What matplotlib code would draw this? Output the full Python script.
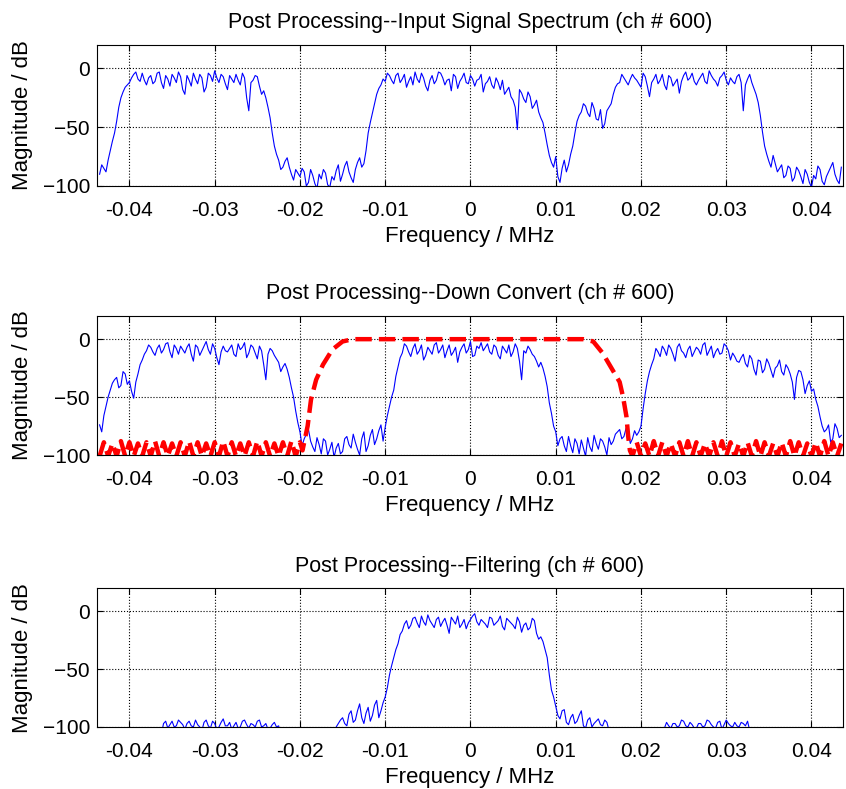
import numpy as np
import matplotlib
matplotlib.use("Agg")
import matplotlib.pyplot as plt
from matplotlib.ticker import FuncFormatter

plt.rcParams['font.family'] = ['Liberation Sans', 'DejaVu Sans']

# frequency range (MHz) of the blue spectra; bins every 0.00025 MHz
f_start, f_stop = -0.0435, 0.0435

# magnitude in dB on the even bins (0.0005 MHz grid), one row = 10 bins
input_db = [
    -90, -85, -78, -62, -45, -25, -16, -12, -5, -9,
    -4, -14, -6, -11, -3, -17, -9, -5, -12, -7,
    -22, -10, -4, -13, -8, -16, -6, -2, -12, -7,
    -18, -9, -5, -14, -8, -36, -10, -7, -22, -25,
    -42, -66, -78, -84, -76, -90, -86, -92, -88, -97,
    -91, -102, -94, -89, -101, -95, -82, -90, -79, -93,
    -86, -76, -81, -55, -38, -22, -14, -11, -6, -13,
    -4, -9, -16, -7, -3, -12, -8, -19, -6, -10,
    -4, -14, -9, -5, -17, -8, -12, -6, -15, -9,
    -20, -11, -14, -8, -18, -22, -16, -27, -52, -21,
    -29, -24, -31, -37, -46, -65, -80, -75, -97, -78,
    -82, -66, -45, -37, -32, -41, -34, -44, -51, -36,
    -30, -16, -12, -8, -14, -5, -10, -16, -7, -24,
    -9, -13, -5, -18, -8, -12, -21, -6, -10, -4,
    -14, -7, -11, -2, -9, -15, -6, -10, -8, -13,
    -5, -36, -9, -12, -22, -40, -66, -79, -74, -88,
    -82, -91, -85, -93, -87, -98, -90, -101, -94, -86,
    -99, -88, -80, -95, -84,
]
# odd bins (halfway between the even ones)
input_db_mid = [
    -82, -88, -70, -55, -33, -20, -14, -8, -3, -11,
    -10, -8, -13, -4, -12, -6, -15, -8, -3, -18,
    -6, -15, -9, -5, -20, -4, -11, -8, -5, -13,
    -6, -12, -10, -4, -25, -12, -6, -15, -19, -33,
    -55, -73, -86, -79, -84, -95, -89, -85, -100, -86,
    -98, -90, -86, -99, -92, -87, -96, -83, -88, -97,
    -80, -84, -70, -46, -30, -17, -9, -4, -10, -6,
    -12, -5, -11, -14, -9, -4, -15, -10, -13, -3,
    -8, -10, -19, -7, -11, -4, -13, -9, -10, -5,
    -13, -7, -17, -12, -10, -19, -24, -33, -18, -26,
    -20, -34, -27, -42, -55, -74, -84, -92, -85, -88,
    -73, -55, -40, -30, -38, -29, -43, -35, -47, -33,
    -22, -13, -5, -11, -9, -8, -13, -4, -15, -12,
    -5, -10, -14, -6, -15, -9, -11, -3, -8, -11,
    -10, -4, -13, -6, -11, -8, -3, -14, -11, -7,
    -12, -14, -5, -17, -29, -54, -73, -84, -81, -85,
    -93, -83, -96, -84, -92, -86, -97, -91, -83, -96,
    -92, -84, -90, -98,
]

downconv_db = [
    -74, -66, -50, -38, -33, -40, -30, -36, -51, -30,
    -18, -10, -7, -14, -5, -9, -3, -16, -8, -6,
    -12, -4, -19, -7, -10, -2, -13, -8, -22, -6,
    -11, -5, -15, -9, -3, -12, -7, -17, -10, -35,
    -8, -14, -20, -24, -26, -42, -62, -80, -86, -78,
    -93, -85, -99, -88, -95, -102, -90, -97, -84, -94,
    -89, -100, -80, -92, -78, -86, -74, -76, -58, -44,
    -24, -12, -6, -15, -4, -10, -18, -7, -13, -3,
    -9, -16, -5, -11, -20, -7, -12, -2, -14, -8,
    -10, -4, -13, -7, -17, -9, -5, -11, -8, -35,
    -12, -9, -15, -24, -25, -41, -64, -80, -86, -92,
    -84, -98, -90, -87, -101, -93, -83, -95, -88, -100,
    -91, -82, -78, -84, -80, -86, -83, -75, -47, -28,
    -17, -11, -6, -14, -8, -19, -4, -12, -9, -15,
    -7, -13, -3, -10, -16, -8, -12, -6, -18, -15,
    -20, -13, -24, -17, -31, -19, -26, -21, -33, -23,
    -28, -22, -30, -52, -27, -35, -40, -45, -52, -67,
    -80, -74, -86, -77, -83,
]
downconv_db_mid = [
    -80, -58, -44, -35, -42, -28, -39, -45, -37, -22,
    -13, -5, -11, -8, -12, -4, -11, -5, -13, -9,
    -7, -13, -5, -14, -6, -9, -4, -16, -11, -10,
    -8, -13, -4, -7, -16, -5, -12, -6, -22, -13,
    -10, -17, -28, -21, -33, -50, -72, -92, -82, -88,
    -97, -91, -86, -100, -89, -94, -99, -86, -91, -82,
    -95, -86, -97, -83, -91, -79, -88, -66, -50, -32,
    -16, -4, -11, -8, -13, -5, -14, -10, -5, -12,
    -5, -10, -14, -7, -11, -4, -9, -15, -6, -3,
    -7, -11, -5, -14, -6, -12, -15, -4, -19, -10,
    -6, -13, -19, -20, -32, -55, -75, -92, -84, -97,
    -92, -86, -99, -94, -85, -97, -90, -86, -93, -85,
    -88, -80, -86, -77, -90, -79, -80, -60, -36, -22,
    -8, -15, -9, -5, -13, -7, -10, -16, -6, -11,
    -9, -5, -14, -6, -11, -13, -4, -10, -12, -19,
    -16, -21, -14, -26, -18, -29, -17, -27, -25, -18,
    -31, -25, -37, -33, -28, -47, -36, -43, -58, -75,
    -78, -89, -73, -85,
]

filtered_db = [
    -112, -115, -110, -118, -113, -111, -116, -112, -114, -110,
    -117, -112, -109, -115, -111, -97, -101, -95, -99, -96,
    -102, -95, -100, -98, -103, -94, -101, -97, -100, -93,
    -99, -102, -96, -100, -94, -101, -98, -95, -100, -97,
    -101, -96, -99, -112, -115, -110, -118, -113, -116, -111,
    -114, -110, -117, -112, -108, -104, -97, -92, -99, -86,
    -94, -80, -97, -83, -90, -77, -86, -74, -55, -40,
    -28, -17, -8, -12, -5, -14, -9, -3, -11, -7,
    -13, -6, -19, -8, -4, -11, -15, -7, -2, -12,
    -9, -14, -6, -10, -4, -16, -8, -12, -5, -18,
    -10, -14, -8, -24, -26, -40, -68, -82, -93, -85,
    -98, -89, -95, -86, -101, -92, -97, -93, -99, -96,
    -108, -113, -110, -116, -112, -118, -111, -115, -109, -114,
    -112, -117, -110, -96, -101, -97, -99, -95, -100, -98,
    -101, -97, -99, -95, -100, -96, -102, -94, -99, -96,
    -100, -97, -95, -108, -113, -110, -116, -112, -115, -111,
    -117, -112, -110, -114, -118, -111, -115, -113, -109, -116,
    -112, -114, -110, -117, -113,
]
filtered_db_mid = [
    -114, -118, -112, -110, -117, -113, -111, -115, -109, -113,
    -110, -114, -112, -108, -106, -95, -98, -100, -94, -98,
    -97, -99, -94, -100, -96, -99, -95, -102, -96, -99,
    -96, -99, -101, -95, -98, -97, -100, -94, -99, -102,
    -98, -100, -107, -114, -111, -116, -112, -117, -110, -115,
    -111, -116, -113, -109, -106, -100, -94, -97, -89, -96,
    -86, -92, -88, -95, -81, -92, -79, -66, -47, -33,
    -20, -11, -15, -6, -10, -4, -12, -8, -14, -5,
    -9, -12, -5, -11, -14, -7, -10, -4, -9, -7,
    -11, -5, -12, -8, -13, -6, -10, -15, -9, -12,
    -16, -6, -19, -22, -33, -55, -74, -90, -86, -96,
    -92, -97, -90, -99, -94, -100, -95, -98, -94, -103,
    -111, -109, -114, -110, -117, -113, -110, -118, -112, -111,
    -115, -112, -101, -99, -97, -100, -94, -99, -96, -101,
    -97, -100, -94, -98, -101, -95, -98, -97, -100, -99,
    -96, -99, -103, -111, -109, -114, -111, -117, -113, -115,
    -110, -116, -113, -109, -115, -117, -112, -110, -114, -112,
    -113, -111, -116, -114,
]

# filter response (red) - stopband ripple, transition, passband
stop_left_db = [
    -101, -89, -101, -90, -101, -88, -101, -89, -101, -90, -101, -89,
    -101, -88, -101, -89, -101, -90, -101, -89, -101, -88, -101, -89,
    -101, -90, -101, -89, -101, -88, -101, -89, -101, -90, -101, -89,
    -101, -88, -101, -89, -101, -90, -101, -89, -101, -88, -101, -89,
]
trans_freq = [-0.0197, -0.0191, -0.0187, -0.0181, -0.0173, -0.0162, -0.0150, -0.0138,
              0.0132, 0.0144, 0.0155, 0.0167, 0.0175, 0.0179, 0.0183, 0.0185, 0.0187]
trans_db = [-96, -75, -52, -35, -22, -9, -2, 0,
            0, -2, -12, -27, -37, -50, -67, -84, -96]
stop_right_db = [
    -101, -89, -101, -90, -101, -88, -101, -89, -101, -90, -101, -89,
    -101, -88, -101, -89, -101, -90, -101, -89, -101, -88, -101, -89,
    -101, -90, -101, -89, -101, -88, -101, -89, -101, -90, -101, -89,
    -101, -88, -101, -89, -101, -90, -101, -89, -101, -88, -101, -89,
    -101, -90,
]

titles = ["Post Processing--Input Signal Spectrum (ch # 600)",
          "Post Processing--Down Convert (ch # 600)",
          "Post Processing--Filtering (ch # 600)"]
xticks = [-0.04, -0.03, -0.02, -0.01, 0, 0.01, 0.02, 0.03, 0.04]
yticks = [-100, -50, 0]


def interleave(even, odd):
    out = np.empty(len(even) + len(odd))
    out[0::2] = even
    out[1::2] = odd
    return out


fig = plt.figure(figsize=(8.46, 7.89), dpi=100)
positions = [[0.1147, 0.7643, 0.8818, 0.1787],
             [0.1147, 0.4233, 0.8818, 0.1762],
             [0.1147, 0.0786, 0.8818, 0.1758]]
spectra = [interleave(input_db, input_db_mid),
           interleave(downconv_db, downconv_db_mid),
           interleave(filtered_db, filtered_db_mid)]

fmt = FuncFormatter(lambda v, p: "%g" % round(v, 3))

for i in range(3):
    ax = fig.add_axes(positions[i])
    freq = np.linspace(f_start, f_stop, len(spectra[i]))
    ax.plot(freq, spectra[i], color="blue", linewidth=0.8)

    if i == 1:
        f_left = np.linspace(-0.0435, -0.0200, len(stop_left_db))
        f_right = np.linspace(0.0190, 0.0435, len(stop_right_db))
        ffilt = np.concatenate([f_left, trans_freq, f_right])
        gfilt = np.concatenate([stop_left_db, trans_db, stop_right_db])
        ax.plot(ffilt, gfilt, color="red", linewidth=3.2, linestyle="--")

    ax.set_xlim(-0.0438, 0.0437)
    ax.set_ylim(-100, 20)
    ax.set_xticks(xticks)
    ax.set_yticks(yticks)
    ax.xaxis.set_major_formatter(fmt)
    ax.grid(True, color="black", linestyle=":", linewidth=0.8)
    ax.tick_params(direction="in", top=True, right=True, length=4,
                   labelsize=15, pad=11)
    ax.tick_params(axis="y", pad=5)
    ax.set_title(titles[i], fontsize=15.5, pad=12)
    ax.set_xlabel("Frequency / MHz", fontsize=16, labelpad=4)
    ax.set_ylabel("Magnitude / dB", fontsize=16)
    ax.yaxis.set_label_coords(-0.086, 0.5)

fig.savefig("out.png", dpi=100)
